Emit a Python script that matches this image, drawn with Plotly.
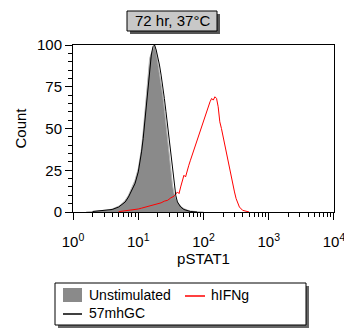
import numpy as np
import plotly.graph_objects as go

# ---- data (log10 of pSTAT1 intensity, normalised count) ----
unstim_log = [0.20, 0.30, 0.40, 0.50, 0.55, 0.60, 0.65, 0.70, 0.75, 0.80, 0.85, 0.90, 0.95, 1.00,
              1.025, 1.05, 1.075, 1.10, 1.125, 1.15, 1.175, 1.20, 1.225, 1.25, 1.275, 1.30, 1.325,
              1.35, 1.375, 1.40, 1.425, 1.45, 1.475, 1.50, 1.525, 1.55, 1.60, 1.65, 1.70, 1.75,
              1.80, 1.90, 2.00]
unstim_cnt = [0, 0.3, 0.6, 1.0, 1.3, 1.8, 2.5, 3.5, 5, 7, 10, 14, 19, 26,
              31, 38, 48, 60, 70, 80, 92, 95, 98, 100, 96, 90, 84,
              78, 70, 62, 52, 42, 32, 23, 16, 11, 6, 3.5, 2, 1.2,
              0.6, 0.2, 0]

gc_log = [0.30, 0.50, 0.60, 0.70, 0.75, 0.80, 0.85, 0.90, 0.95, 1.00, 1.025, 1.05, 1.075, 1.10,
          1.125, 1.15, 1.175, 1.20, 1.225, 1.25, 1.275, 1.30, 1.325, 1.35, 1.375, 1.40, 1.425,
          1.45, 1.475, 1.50, 1.525, 1.55, 1.575, 1.60, 1.65, 1.70, 1.75, 1.80, 1.90]
gc_cnt = [0.3, 0.8, 1.5, 3, 4.5, 6, 9, 13, 17, 24, 29, 36, 44, 55,
          66, 76, 86, 94, 99, 100, 97, 93, 88, 82, 76, 68, 60,
          51, 42, 33, 24, 16, 10, 6, 3, 1.5, 0.7, 0.3, 0]

ifn_log = [0.70, 0.80, 0.90, 1.00, 1.05, 1.10, 1.15, 1.20, 1.25, 1.30, 1.35, 1.40, 1.45, 1.50,
           1.55, 1.60, 1.625, 1.65, 1.675, 1.70, 1.725, 1.75, 1.775, 1.80, 1.825, 1.85, 1.875,
           1.90, 1.925, 1.95, 1.975, 2.00, 2.025, 2.05, 2.075, 2.10, 2.125, 2.15, 2.175, 2.20,
           2.225, 2.25, 2.275, 2.30, 2.325, 2.35, 2.375, 2.40, 2.425, 2.45, 2.475, 2.50, 2.525,
           2.55, 2.60, 2.65, 2.70]
ifn_cnt = [0.2, 0.6, 1.0, 1.8, 2.3, 2.8, 3.5, 3.8, 4.5, 5, 5.5, 6.5, 7, 8.5,
           9.5, 12, 11, 15, 18, 22, 21, 25, 28, 31, 34, 37, 40,
           43, 45, 49, 52, 55, 58, 61, 64, 66, 68, 67, 69, 68,
           63, 54, 50, 45, 40, 35, 30, 26, 21, 16, 12, 8, 5,
           3, 1, 0.3, 0]

series_names = ["Unstimulated", "hIFNg", "57mhGC"]
x_ticks = [1, 10, 100, 1000, 10000]
x_ticktext = ["10<sup>0</sup>", "10<sup>1</sup>", "10<sup>2</sup>", "10<sup>3</sup>", "10<sup>4</sup>"]
y_ticks = [0, 25, 50, 75, 100]

FONT = "Liberation Sans, Arial, sans-serif"

# pixel geometry helpers (plot area 73..334 x, 45..212 y)
L, R, T, B = 73, 334, 45, 212
def xp(px):
    return (px - L) / (R - L)
def yp(py):
    return (B - py) / (B - T)

fig = go.Figure()
fig.add_trace(go.Scatter(x=np.power(10.0, unstim_log), y=unstim_cnt, name=series_names[0],
                         mode="lines", fill="tozeroy", fillcolor="#8a8a8a",
                         line=dict(color="#b4b4b4", width=1)))
fig.add_trace(go.Scatter(x=np.power(10.0, ifn_log), y=ifn_cnt, name=series_names[1],
                         mode="lines", line=dict(color="#ff0000", width=1)))
fig.add_trace(go.Scatter(x=np.power(10.0, gc_log), y=gc_cnt, name=series_names[2],
                         mode="lines", line=dict(color="#000000", width=1)))

minor_vals = [m * 10 ** d for d in range(4) for m in range(2, 10)]

fig.update_xaxes(type="log", range=[-0.0005, 4.0005], tickvals=x_ticks, ticktext=x_ticktext,
                 showline=True, linecolor="black", linewidth=1, mirror=True,
                 ticks="outside", ticklen=7, tickcolor="black", showgrid=False, zeroline=False,
                 ticklabelstandoff=9, ticklabeloverflow="allow",
                 minor=dict(tickmode="array", tickvals=minor_vals, ticks="outside", ticklen=4,
                            tickcolor="black", showgrid=False),
                 tickfont=dict(size=15, color="black", family=FONT),
                 title=dict(text="pSTAT1", font=dict(size=15, color="black", family=FONT), standoff=0))
fig.update_yaxes(range=[0, 100], tickvals=y_ticks,
                 showline=True, linecolor="black", linewidth=1, mirror=True,
                 ticks="outside", ticklen=7, tickcolor="black", showgrid=False, zeroline=False,
                 minor=dict(dtick=5, ticks="outside", ticklen=4, tickcolor="black", showgrid=False),
                 tickfont=dict(size=15, color="black", family=FONT),
                 title=dict(text="Count", font=dict(size=15, color="black", family=FONT), standoff=6))

def rect(x0, y0, x1, y1, fill, line_color=None, lw=0):
    return dict(type="rect", xref="paper", yref="paper", x0=xp(x0), x1=xp(x1), y0=yp(y1), y1=yp(y0),
                fillcolor=fill, line=dict(width=lw, color=line_color or fill), layer="above")

def hline(x0, x1, y, color):
    return dict(type="line", xref="paper", yref="paper", x0=xp(x0), x1=xp(x1), y0=yp(y), y1=yp(y),
                line=dict(color=color, width=1.5), layer="above")

shapes = [
    # title box + shadow
    rect(130, 14, 220, 34, "#555555"),
    rect(127, 11, 217, 31, "#c8c8c8", "black", 1),
    # legend box + shadow
    rect(58, 286, 309, 328, "#666666"),
    rect(55, 283, 306, 325, "white", "black", 1),
    # legend symbols
    rect(63, 288, 82, 302, "#8a8a8a"),
    hline(185, 205, 296, "#ff0000"),
    hline(63, 82, 314, "#000000"),
]

def label(text, x, y, size=14, anchor="left"):
    return dict(text=text, xref="paper", yref="paper", x=xp(x), y=yp(y), xanchor=anchor,
                yanchor="middle", showarrow=False, font=dict(size=size, color="black", family=FONT))

fig.update_layout(
    width=344, height=329,
    margin=dict(l=L, r=344 - R, t=T, b=329 - B, autoexpand=False),
    paper_bgcolor="white", plot_bgcolor="white",
    font=dict(family=FONT, color="black"),
    shapes=shapes,
    annotations=[
        label("72 hr, 37°C", 172, 21, size=15, anchor="center"),
        label(series_names[0], 87, 295),
        label(series_names[1], 209, 295),
        label(series_names[2], 87, 313),
    ],
    showlegend=False,
)

fig.write_html("out.html")
